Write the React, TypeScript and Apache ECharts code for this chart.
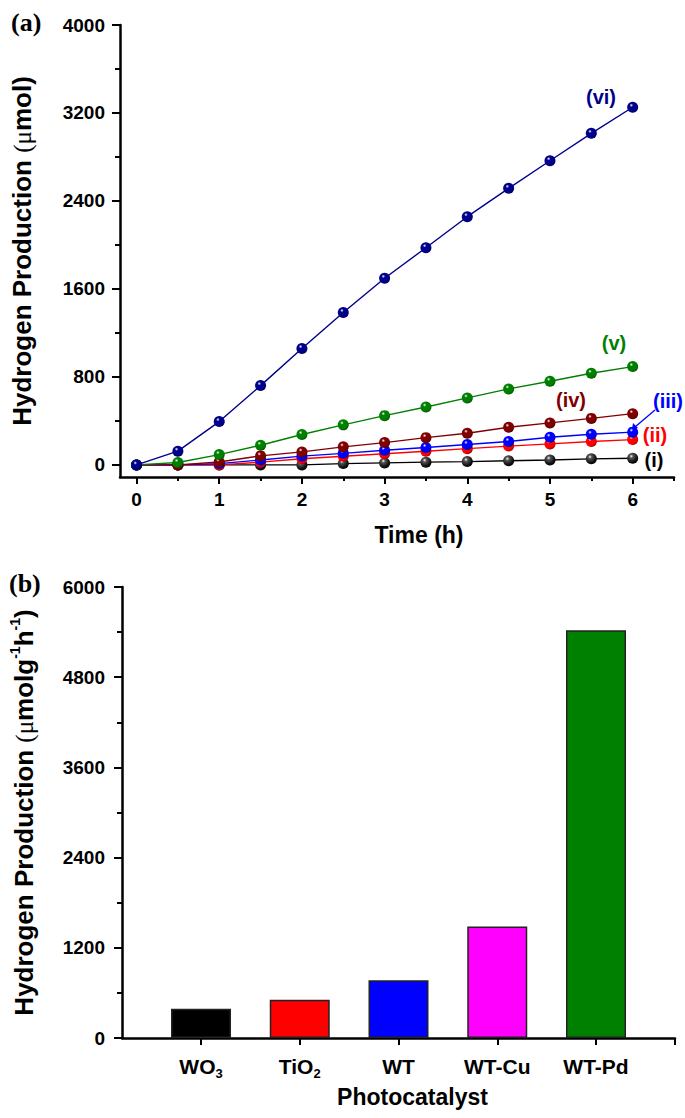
import React, { useEffect, useRef } from "react";
import * as echarts from "echarts";

// ---------- Data ----------
const timeH = [0, 0.5, 1, 1.5, 2, 2.5, 3, 3.5, 4, 4.5, 5, 5.5, 6];
const seriesI = [0, 0, 0, 0, 0, 12, 18, 25, 30, 38, 45, 55, 61];
const seriesII = [0, 0, 0, 25, 56, 79, 101, 124, 148, 171, 191, 213, 230];
const seriesIII = [0, 0, 12, 45, 80, 105, 133, 158, 186, 213, 252, 279, 298];
const seriesIV = [0, 0, 27, 82, 118, 164, 203, 248, 288, 342, 382, 423, 466];
const seriesV = [0, 22, 94, 179, 276, 364, 448, 527, 609, 691, 761, 833, 894];
const seriesVI = [0, 125, 394, 721, 1058, 1386, 1697, 1975, 2257, 2515, 2766, 3015, 3252];
const seriesNames = ["(i)", "(ii)", "(iii)", "(iv)", "(v)", "(vi)"];

const yTicksA = [0, 800, 1600, 2400, 3200, 4000];
const yMinorTicksA = [400, 1200, 2000, 2800, 3600];
const xTicksA = [0, 1, 2, 3, 4, 5, 6];
const xMinorTicksA = [0.5, 1.5, 2.5, 3.5, 4.5, 5.5, 6.5];

const catalysts = ["WO3", "TiO2", "WT", "WT-Cu", "WT-Pd"];
const rates = [390, 510, 767, 1485, 5423];
const yTicksB = [0, 1200, 2400, 3600, 4800, 6000];
const yMinorTicksB = [600, 1800, 3000, 4200, 5400];

// ---------- Styles ----------
const FONT = "'Liberation Sans', Arial, Helvetica, sans-serif";
const SERIF = "'Liberation Serif', 'Times New Roman', serif";
const lineColors = ["#000000", "#FF0000", "#0000FF", "#800000", "#008000", "#00008B"];
const barColors = ["#000000", "#FF0000", "#0000FF", "#FF00FF", "#008000"];

function shade(hex: string, f: number) {
  const n = parseInt(hex.slice(1), 16);
  const r = Math.round(((n >> 16) & 255) * f);
  const g = Math.round(((n >> 8) & 255) * f);
  const b = Math.round((n & 255) * f);
  return `rgb(${r},${g},${b})`;
}

function sphere(c: string) {
  return new echarts.graphic.RadialGradient(0.38, 0.32, 0.75, [
    { offset: 0, color: "#ffffff" },
    { offset: 0.22, color: c === "#000000" ? "#555555" : c },
    { offset: 0.7, color: c === "#000000" ? "#111111" : c },
    { offset: 1, color: c === "#000000" ? "#000000" : shade(c, 0.55) },
  ]);
}

export default function App() {
  const ref = useRef<HTMLDivElement>(null);

  useEffect(() => {
    document.body.style.margin = "0";
    if (!ref.current) return;
    const chart = echarts.init(ref.current, undefined, { renderer: "svg" });

    const axisLineStyle = { color: "#000", width: 2.5 };
    const tickStyle = { width: 2, color: "#000" };
    const numLabel = {
      color: "#000",
      fontFamily: FONT,
      fontWeight: "bold" as const,
      fontSize: 19,
      formatter: (v: number) => String(v),
    };
    const hidden = {
      axisLine: { show: false, onZero: false },
      axisLabel: { show: false },
      splitLine: { show: false },
    };

    const allSeries = [seriesI, seriesII, seriesIII, seriesIV, seriesV, seriesVI];

    const lineSeries = allSeries.map((vals, i) => ({
      type: "line",
      name: seriesNames[i],
      xAxisIndex: 0,
      yAxisIndex: 0,
      data: timeH.map((t, k) => [t, vals[k]]),
      symbol: "circle",
      symbolSize: 11,
      showSymbol: true,
      lineStyle: { color: lineColors[i], width: 1.4 },
      itemStyle: { color: sphere(lineColors[i]) },
      z: 2 + i,
    }));

    const titleRich = {
      b: { color: "#000", fontFamily: FONT, fontWeight: "bold", fontSize: 26, lineHeight: 32, verticalAlign: "middle" },
      r: { color: "#000", fontFamily: SERIF, fontWeight: "normal", fontSize: 25, lineHeight: 32, verticalAlign: "middle" },
      sup: { color: "#000", fontFamily: FONT, fontWeight: "bold", fontSize: 14, lineHeight: 14, verticalAlign: "top" },
    };

    const option: any = {
      animation: false,
      backgroundColor: "#ffffff",
      grid: [
        { left: 120, right: 11, top: 25, height: 452 },
        { left: 120, right: 10, top: 587, height: 451 },
      ],
      xAxis: [
        {
          type: "value",
          gridIndex: 0,
          position: "bottom",
          min: -0.2,
          max: 6.5,
          name: "Time (h)",
          nameLocation: "middle",
          nameGap: 46,
          nameTextStyle: { color: "#000", fontFamily: FONT, fontWeight: "bold", fontSize: 23, padding: [0, 0, 0, 44] },
          axisLine: { show: true, onZero: false, lineStyle: axisLineStyle },
          axisTick: { show: true, inside: false, length: 7, lineStyle: tickStyle, customValues: xTicksA },
          axisLabel: { ...numLabel, margin: 13, customValues: xTicksA },
          splitLine: { show: false },
        },
        {
          type: "value",
          gridIndex: 0,
          position: "bottom",
          offset: 0,
          min: -0.2,
          max: 6.5,
          ...hidden,
          axisTick: { show: true, inside: false, length: 4, lineStyle: tickStyle, customValues: xMinorTicksA },
        },
        {
          type: "value",
          gridIndex: 1,
          position: "bottom",
          min: 0.2,
          max: 5.8,
          name: "Photocatalyst",
          nameLocation: "middle",
          nameGap: 47,
          nameTextStyle: { color: "#000", fontFamily: FONT, fontWeight: "bold", fontSize: 23, padding: [0, 0, 0, 28] },
          axisLine: { show: true, onZero: false, lineStyle: axisLineStyle },
          axisTick: { show: true, inside: false, length: 7, lineStyle: tickStyle, customValues: [1, 2, 3, 4, 5, 5.8] },
          axisLabel: {
            margin: 14,
            customValues: [1, 2, 3, 4, 5],
            formatter: (v: number) => {
              const name = catalysts[Math.round(v) - 1] || "";
              return name.replace(/^([A-Za-z]+)(\d)$/, "{m|$1}{sub|$2}").replace(/^([A-Za-z-]+)$/, "{m|$1}");
            },
            rich: {
              m: { color: "#000", fontFamily: FONT, fontWeight: "bold", fontSize: 21, lineHeight: 28, verticalAlign: "middle" },
              sub: { color: "#000", fontFamily: FONT, fontWeight: "bold", fontSize: 13, lineHeight: 14, verticalAlign: "bottom" },
            },
          },
          splitLine: { show: false },
        },
      ],
      yAxis: [
        {
          type: "value",
          gridIndex: 0,
          position: "left",
          min: -110,
          max: 4000,
          name: "{b|Hydrogen Production }{r|(μ}{b|mol)}",
          nameLocation: "middle",
          nameRotate: 90,
          nameGap: 82,
          nameTextStyle: { rich: titleRich },
          axisLine: { show: true, onZero: false, lineStyle: axisLineStyle },
          axisTick: { show: true, inside: false, length: 8, lineStyle: tickStyle, customValues: yTicksA },
          axisLabel: { ...numLabel, margin: 15, customValues: yTicksA },
          splitLine: { show: false },
        },
        {
          type: "value",
          gridIndex: 0,
          position: "left",
          offset: 0,
          min: -110,
          max: 4000,
          ...hidden,
          axisTick: { show: true, inside: false, length: 5, lineStyle: tickStyle, customValues: yMinorTicksA },
        },
        {
          type: "value",
          gridIndex: 1,
          position: "left",
          min: 0,
          max: 6000,
          name: "{b|Hydrogen Production }{r|(μ}{b|molg}{sup|-1}{b|h}{sup|-1}{b|)}",
          nameLocation: "middle",
          nameRotate: 90,
          nameGap: 82,
          nameTextStyle: { rich: titleRich },
          axisLine: { show: true, onZero: false, lineStyle: axisLineStyle },
          axisTick: { show: true, inside: false, length: 8, lineStyle: tickStyle, customValues: yTicksB },
          axisLabel: { ...numLabel, margin: 17, customValues: yTicksB },
          splitLine: { show: false },
        },
        {
          type: "value",
          gridIndex: 1,
          position: "left",
          offset: 0,
          min: 0,
          max: 6000,
          ...hidden,
          axisTick: { show: true, inside: false, length: 5, lineStyle: tickStyle, customValues: yMinorTicksB },
        },
      ],
      series: [
        ...lineSeries,
        {
          type: "bar",
          xAxisIndex: 2,
          yAxisIndex: 2,
          barWidth: 60,
          data: rates.map((v, i) => ({
            value: [i + 1, v],
            itemStyle: { color: barColors[i], borderColor: "#222", borderWidth: 1.5 },
          })),
        },
      ],
      graphic: [
        { type: "text", x: 11, y: 9, style: { text: "(a)", font: `bold 26px ${SERIF}`, fill: "#000" } },
        { type: "text", x: 9, y: 570, style: { text: "(b)", font: `bold 26px ${SERIF}`, fill: "#000" } },
        { type: "text", x: 601, y: 97, style: { text: "(vi)", font: `bold 20px ${FONT}`, fill: lineColors[5], textAlign: "center", textVerticalAlign: "middle" } },
        { type: "text", x: 614, y: 343, style: { text: "(v)", font: `bold 20px ${FONT}`, fill: lineColors[4], textAlign: "center", textVerticalAlign: "middle" } },
        { type: "text", x: 571, y: 400, style: { text: "(iv)", font: `bold 20px ${FONT}`, fill: lineColors[3], textAlign: "center", textVerticalAlign: "middle" } },
        { type: "text", x: 668, y: 401, style: { text: "(iii)", font: `bold 20px ${FONT}`, fill: lineColors[2], textAlign: "center", textVerticalAlign: "middle" } },
        { type: "text", x: 655, y: 435, style: { text: "(ii)", font: `bold 20px ${FONT}`, fill: lineColors[1], textAlign: "center", textVerticalAlign: "middle" } },
        { type: "text", x: 654, y: 460, style: { text: "(i)", font: `bold 20px ${FONT}`, fill: lineColors[0], textAlign: "center", textVerticalAlign: "middle" } },
        { type: "line", shape: { x1: 655, y1: 410, x2: 635, y2: 427 }, style: { stroke: lineColors[2], lineWidth: 1.3 } },
        { type: "polygon", shape: { points: [[632, 430], [633, 423], [638, 428]] }, style: { fill: lineColors[2] } },
      ],
    };

    chart.setOption(option);
    return () => chart.dispose();
  }, []);

  return <div ref={ref} style={{ width: 685, height: 1118 }} />;
}
